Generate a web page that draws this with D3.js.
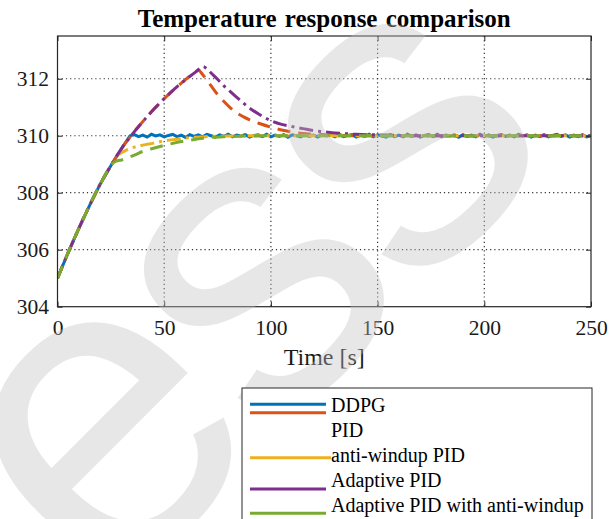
<!DOCTYPE html>
<html>
<head>
<meta charset="utf-8">
<script src="https://cdn.jsdelivr.net/npm/d3@7"></script>
<style>
  body { margin: 0; background: #fff; }
  svg { display: block; }
</style>
</head>
<body>
<div id="chart"></div>
<script>
// rise shared by all controllers
const riseTime = [0, 5, 10, 15, 20, 25]
const riseTemp = [305, 305.9, 306.75, 307.55, 308.3, 308.95]

const ddpgTime = [30, 34]
const ddpgTemp = [309.55, 310.0]
// DDPG holds 310 with small noise, sampled every 2 s from t = 36
const ddpgNoise = [
  310.04, 309.97, 310.02, 309.95, 310.05, 309.99, 310.03, 309.96, 310.01, 310.05, 309.97, 310.02, 309.94, 310.04, 309.98, 310.03, 309.96, 310.05, 310.0, 309.95,
  310.03, 309.98, 310.05, 309.96, 310.02, 309.99, 310.04, 309.95, 310.01, 310.03, 309.97, 310.05, 309.96, 310.02, 309.98, 310.04, 309.95, 310.03, 310.0, 309.96,
  310.05, 309.98, 310.02, 309.95, 310.04, 309.99, 310.03, 309.96, 310.05, 309.97, 310.01, 310.04, 309.95, 310.02, 309.98, 310.05, 309.96, 310.03, 309.99, 309.95,
  310.04, 309.97, 310.02, 309.96, 310.05, 309.98, 310.03, 309.95, 310.01, 310.04, 309.97, 310.05, 309.96, 310.02, 309.99, 310.03, 309.95, 310.04, 309.98, 310.02,
  309.96, 310.05, 309.97, 310.03, 309.95, 310.01, 310.04, 309.98, 310.02, 309.96, 310.05, 309.99, 310.03, 309.95, 310.02, 309.97, 310.04, 309.96, 310.01, 310.05,
  309.98, 310.03, 309.95, 310.02, 309.97, 310.04, 309.96, 310.0
]

const pidTime = [30, 35, 40, 45, 50, 55, 60, 64, 66, 68, 70, 72, 75, 78, 81, 84, 87, 90, 95, 100, 105, 110, 115, 120, 130, 140, 160, 250]
const pidTemp = [309.55, 310.05, 310.5, 310.92, 311.3, 311.65, 311.97, 312.2, 312.3, 312.15, 311.95, 311.75, 311.45, 311.2, 310.98, 310.8, 310.67, 310.56, 310.42, 310.3, 310.2, 310.13, 310.08, 310.05, 310.02, 310.0, 310.0, 310.0]

const awTime = [28, 30, 33, 36, 40, 45, 50, 55, 60, 70, 80, 90, 250]
const awTemp = [309.3, 309.4, 309.52, 309.6, 309.67, 309.74, 309.82, 309.87, 309.92, 309.97, 309.99, 310.0, 310.0]

const adTime = [30, 35, 40, 45, 50, 55, 60, 65, 68, 70, 72, 75, 78, 81, 84, 87, 90, 95, 100, 105, 110, 115, 120, 125, 130, 140, 150, 160, 180, 250]
const adTemp = [309.55, 310.05, 310.5, 310.92, 311.3, 311.65, 311.97, 312.25, 312.43, 312.35, 312.2, 311.98, 311.75, 311.55, 311.35, 311.15, 310.97, 310.73, 310.53, 310.4, 310.32, 310.25, 310.18, 310.14, 310.1, 310.05, 310.03, 310.01, 310.0, 310.0]

const adawTime = [26, 28, 30, 33, 36, 40, 45, 50, 55, 60, 65, 70, 80, 90, 100, 250]
const adawTemp = [309.05, 309.12, 309.15, 309.23, 309.32, 309.45, 309.56, 309.66, 309.75, 309.82, 309.88, 309.93, 309.97, 309.99, 310.0, 310.0]

const names = ['DDPG', 'PID', 'anti-windup PID', 'Adaptive PID', 'Adaptive PID with anti-windup']
const colors = ['#0072BD', '#D95319', '#EDB120', '#7E2F8E', '#77AC30']
const dashes = [null, '13,8', '14,5,3,5', '14,5,3,5', '13,8']

const xTicks = [0, 50, 100, 150, 200, 250]
const yTicks = [304, 306, 308, 310, 312]

const width = 610
const height = 519
const plot = { left: 57.5, right: 591, top: 36, bottom: 306.7 }
const serif = '"Liberation Serif", "Times New Roman", serif'

const svg = d3.select('#chart').append('svg')
  .attr('width', width)
  .attr('height', height)

const x = d3.scaleLinear().domain([0, 250]).range([plot.left, plot.right])
const y = d3.scaleLinear().domain([304, 313.5]).range([plot.bottom, plot.top])

// grid
const grid = svg.append('g')
  .attr('stroke', '#333')
  .attr('stroke-width', 1.2)
  .attr('stroke-dasharray', '1.2,3')
grid.selectAll('.gx').data(xTicks.slice(1, -1)).enter().append('line')
  .attr('x1', d => x(d)).attr('x2', d => x(d))
  .attr('y1', plot.top).attr('y2', plot.bottom)
grid.selectAll('.gy').data(yTicks.slice(1)).enter().append('line')
  .attr('y1', d => y(d)).attr('y2', d => y(d))
  .attr('x1', plot.left).attr('x2', plot.right)

// series
const pairs = (t, v) => d3.zip(t, v)
const ddpgNoiseTime = d3.range(ddpgNoise.length).map(i => 36 + 2 * i)
const series = [
  pairs(riseTime.concat(ddpgTime, ddpgNoiseTime), riseTemp.concat(ddpgTemp, ddpgNoise)),
  pairs(riseTime.concat(pidTime), riseTemp.concat(pidTemp)),
  pairs(riseTime.concat(awTime), riseTemp.concat(awTemp)),
  pairs(riseTime.concat(adTime), riseTemp.concat(adTemp)),
  pairs(riseTime.concat(adawTime), riseTemp.concat(adawTemp)),
]

svg.append('clipPath').attr('id', 'clip')
  .append('rect')
  .attr('x', plot.left).attr('y', plot.top)
  .attr('width', plot.right - plot.left).attr('height', plot.bottom - plot.top)

const line = d3.line()
  .x(d => x(d[0]))
  .y(d => y(d[1]))

const lines = svg.append('g').attr('clip-path', 'url(#clip)')
series.forEach((s, i) => {
  lines.append('path')
    .datum(s)
    .attr('fill', 'none')
    .attr('stroke', colors[i])
    .attr('stroke-width', 3)
    .attr('stroke-dasharray', dashes[i])
    .attr('d', i === 0 ? line.curve(d3.curveLinear)(s) : line.curve(d3.curveMonotoneX)(s))
})

// axes, ticks inward on all four sides
const axisStyle = g => {
  g.attr('font-family', serif).attr('font-size', 21.5)
  g.select('.domain').remove()
  g.selectAll('.tick line').attr('stroke', '#262626')
  g.selectAll('.tick text')
    .attr('fill', '#1a1a1a')
    .style('font-family', serif)
    .style('font-size', '21.5px')
}
svg.append('g')
  .attr('transform', `translate(0, ${plot.bottom})`)
  .call(d3.axisBottom(x).tickValues(xTicks).tickSize(-5).tickPadding(13))
  .call(axisStyle)
svg.append('g')
  .attr('transform', `translate(0, ${plot.top})`)
  .call(d3.axisTop(x).tickValues(xTicks).tickSize(-5).tickFormat(''))
  .call(axisStyle)
svg.append('g')
  .attr('transform', `translate(${plot.left}, 0)`)
  .call(d3.axisLeft(y).tickValues(yTicks).tickSize(-5).tickPadding(8.5))
  .call(axisStyle)
svg.append('g')
  .attr('transform', `translate(${plot.right}, 0)`)
  .call(d3.axisRight(y).tickValues(yTicks).tickSize(-5).tickFormat(''))
  .call(axisStyle)

svg.append('rect')
  .attr('x', plot.left).attr('y', plot.top)
  .attr('width', plot.right - plot.left).attr('height', plot.bottom - plot.top)
  .attr('fill', 'none')
  .attr('stroke', '#262626')
  .attr('stroke-width', 1.2)

// title
svg.append('text')
  .attr('x', (plot.left + plot.right) / 2)
  .attr('y', 26.5)
  .attr('text-anchor', 'middle')
  .style('font-family', serif)
  .style('font-size', '25px')
  .style('font-weight', 'bold')
  .style('word-spacing', '2px')
  .attr('fill', '#000')
  .text('Temperature response comparison')

// x axis label
svg.append('text')
  .attr('x', (plot.left + plot.right) / 2)
  .attr('y', 365)
  .attr('text-anchor', 'middle')
  .style('font-family', serif)
  .style('font-size', '24px')
  .attr('fill', '#1a1a1a')
  .text('Time [s]')

// watermark
svg.append('g')
  .attr('transform', 'translate(106, 606) rotate(-45)')
  .append('text')
  .style('font-family', '"Liberation Sans", Arial, sans-serif')
  .style('font-size', '435px')
  .style('letter-spacing', '-14px')
  .attr('fill', '#bfbfbf')
  .attr('fill-opacity', 0.38)
  .text('ess')

// legend (lines and labels are offset as in the exported figure)
const legendLineY = [404.3, 412.7, 457.7, 489, 513.3]
const legendLineEnd = [326, 326, 331, 326, 326]
const legend = svg.append('g')
legend.append('rect')
  .attr('x', 242).attr('y', 388)
  .attr('width', 350).attr('height', 200)
  .attr('fill', '#fff')
  .attr('stroke', '#262626')
  .attr('stroke-width', 1)
names.forEach((n, i) => {
  legend.append('line')
    .attr('x1', 250).attr('x2', legendLineEnd[i])
    .attr('y1', legendLineY[i]).attr('y2', legendLineY[i])
    .attr('stroke', colors[i])
    .attr('stroke-width', 3)
  legend.append('text')
    .attr('x', 331)
    .attr('y', 411.7 + i * 25)
    .style('font-family', serif)
    .style('font-size', '20px')
    .attr('fill', '#000')
    .text(n)
})
</script>
</body>
</html>
